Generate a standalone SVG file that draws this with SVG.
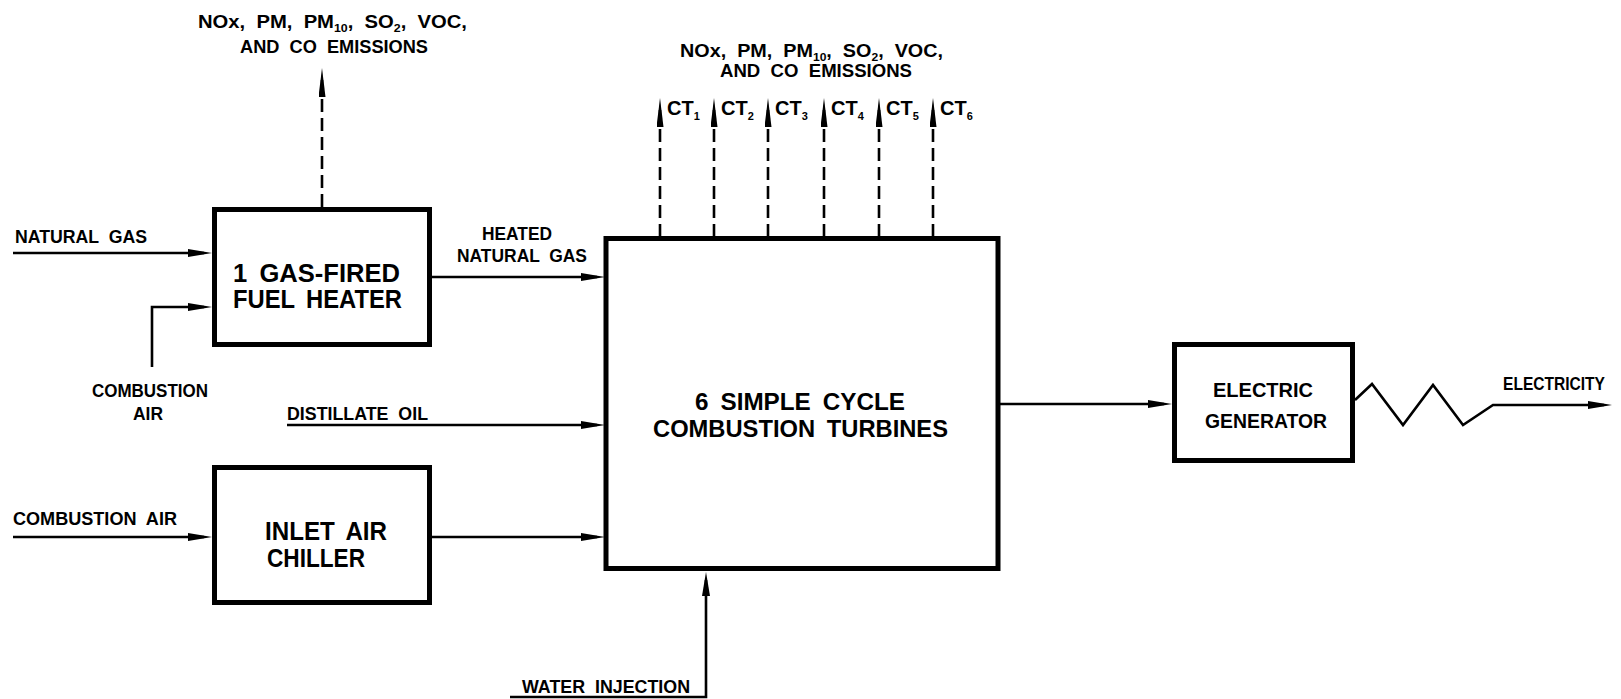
<svg xmlns="http://www.w3.org/2000/svg" width="1621" height="699" viewBox="0 0 1621 699">
<style>
.bg{fill:#ffffff}
.box{fill:#ffffff;stroke:#000;stroke-width:5}
.ln{fill:none;stroke:#000;stroke-width:2.6}
.dash{fill:none;stroke:#000;stroke-width:2.6;stroke-dasharray:13 6}
text{font-family:"Liberation Sans",Arial,sans-serif;font-weight:bold;fill:#000;word-spacing:5px}
.s{font-size:18px}
.ct{font-size:20px}
.sub{font-size:11px}
.big{font-size:25px}
.mid{font-size:23px}
.gen{font-size:21px}
</style>
<defs>
<marker id="ah" markerUnits="userSpaceOnUse" markerWidth="26" markerHeight="10" refX="16" refY="4" orient="auto">
<path d="M0,0 L24,4 L0,8 z" fill="#000"/>
</marker>
<marker id="av" markerUnits="userSpaceOnUse" markerWidth="30" markerHeight="9" refX="21" refY="3.5" orient="auto">
<path d="M0,0 L29,3.5 L0,7 z" fill="#000"/>
</marker>
</defs>
<rect class="bg" x="0" y="0" width="1621" height="699"/>

<g id="connectors">
<path class="ln" d="M13,253 H204" marker-end="url(#ah)"/>
<path class="ln" d="M152,367 V307 H204" marker-end="url(#ah)"/>
<path class="dash" d="M322,207 V76" marker-end="url(#av)"/>
<path class="ln" d="M432,277 H597" marker-end="url(#ah)"/>
<path class="ln" d="M287,425 H597" marker-end="url(#ah)"/>
<path class="ln" d="M13,537 H204" marker-end="url(#ah)"/>
<path class="ln" d="M432,537 H597" marker-end="url(#ah)"/>
<path class="ln" d="M510,697 H706 V580" marker-end="url(#ah)"/>
<path class="dash" d="M660,237 V106" marker-end="url(#av)"/>
<path class="dash" d="M714,237 V106" marker-end="url(#av)"/>
<path class="dash" d="M768,237 V106" marker-end="url(#av)"/>
<path class="dash" d="M824,237 V106" marker-end="url(#av)"/>
<path class="dash" d="M879,237 V106" marker-end="url(#av)"/>
<path class="dash" d="M933,237 V106" marker-end="url(#av)"/>
<path class="ln" d="M999,404 H1164" marker-end="url(#ah)"/>
<path class="ln" d="M1355,400 L1372,384 L1403,425 L1433,385 L1463,425 L1493,405 H1604" marker-end="url(#ah)"/>
</g>

<g id="labels">
<text class="s" x="198" y="28" textLength="269" lengthAdjust="spacingAndGlyphs">NOx, PM, PM<tspan class="sub" dy="4">10</tspan><tspan dy="-4">, SO</tspan><tspan class="sub" dy="4">2</tspan><tspan dy="-4">, VOC,</tspan></text>
<text class="s" x="240" y="53" textLength="188" lengthAdjust="spacingAndGlyphs">AND CO EMISSIONS</text>
<text class="s" x="15" y="243" textLength="132" lengthAdjust="spacingAndGlyphs">NATURAL GAS</text>
<text class="s" x="92" y="397" textLength="116" lengthAdjust="spacingAndGlyphs">COMBUSTION</text>
<text class="s" x="133" y="420" textLength="30" lengthAdjust="spacingAndGlyphs">AIR</text>
<text class="s" x="482" y="240" textLength="70" lengthAdjust="spacingAndGlyphs">HEATED</text>
<text class="s" x="457" y="262" textLength="130" lengthAdjust="spacingAndGlyphs">NATURAL GAS</text>
<text class="s" x="287" y="420" textLength="141" lengthAdjust="spacingAndGlyphs">DISTILLATE OIL</text>
<text class="s" x="13" y="525" textLength="164" lengthAdjust="spacingAndGlyphs">COMBUSTION AIR</text>
<text class="s" x="522" y="693" textLength="168" lengthAdjust="spacingAndGlyphs">WATER INJECTION</text>
<text class="s" x="680" y="57" textLength="263" lengthAdjust="spacingAndGlyphs">NOx, PM, PM<tspan class="sub" dy="4">10</tspan><tspan dy="-4">, SO</tspan><tspan class="sub" dy="4">2</tspan><tspan dy="-4">, VOC,</tspan></text>
<text class="s" x="720" y="77" textLength="192" lengthAdjust="spacingAndGlyphs">AND CO EMISSIONS</text>
<text class="ct" x="667" y="115">CT<tspan class="sub" dy="5">1</tspan></text>
<text class="ct" x="721" y="115">CT<tspan class="sub" dy="5">2</tspan></text>
<text class="ct" x="775" y="115">CT<tspan class="sub" dy="5">3</tspan></text>
<text class="ct" x="831" y="115">CT<tspan class="sub" dy="5">4</tspan></text>
<text class="ct" x="886" y="115">CT<tspan class="sub" dy="5">5</tspan></text>
<text class="ct" x="940" y="115">CT<tspan class="sub" dy="5">6</tspan></text>
<text class="s" x="1503" y="390" textLength="102" lengthAdjust="spacingAndGlyphs">ELECTRICITY</text>
</g>

<g id="fuel-heater">
<rect class="box" x="214.5" y="209.5" width="215" height="135"/>
<text class="big" x="233" y="282" textLength="167" lengthAdjust="spacingAndGlyphs">1 GAS-FIRED</text>
<text class="big" x="233" y="308" textLength="169" lengthAdjust="spacingAndGlyphs">FUEL HEATER</text>
</g>

<g id="inlet-air-chiller">
<rect class="box" x="214.5" y="467.5" width="215" height="135"/>
<text class="big" x="265" y="540" textLength="122" lengthAdjust="spacingAndGlyphs">INLET AIR</text>
<text class="big" x="267" y="567" textLength="98" lengthAdjust="spacingAndGlyphs">CHILLER</text>
</g>

<g id="combustion-turbines">
<rect class="box" x="606" y="238.5" width="392" height="330"/>
<text class="mid" x="695" y="410" textLength="210" lengthAdjust="spacingAndGlyphs">6 SIMPLE CYCLE</text>
<text class="mid" x="653" y="437" textLength="295" lengthAdjust="spacingAndGlyphs">COMBUSTION TURBINES</text>
</g>

<g id="electric-generator">
<rect class="box" x="1174.5" y="344.5" width="178" height="116"/>
<text class="gen" x="1213" y="397" textLength="100" lengthAdjust="spacingAndGlyphs">ELECTRIC</text>
<text class="gen" x="1205" y="428" textLength="122" lengthAdjust="spacingAndGlyphs">GENERATOR</text>
</g>
</svg>
